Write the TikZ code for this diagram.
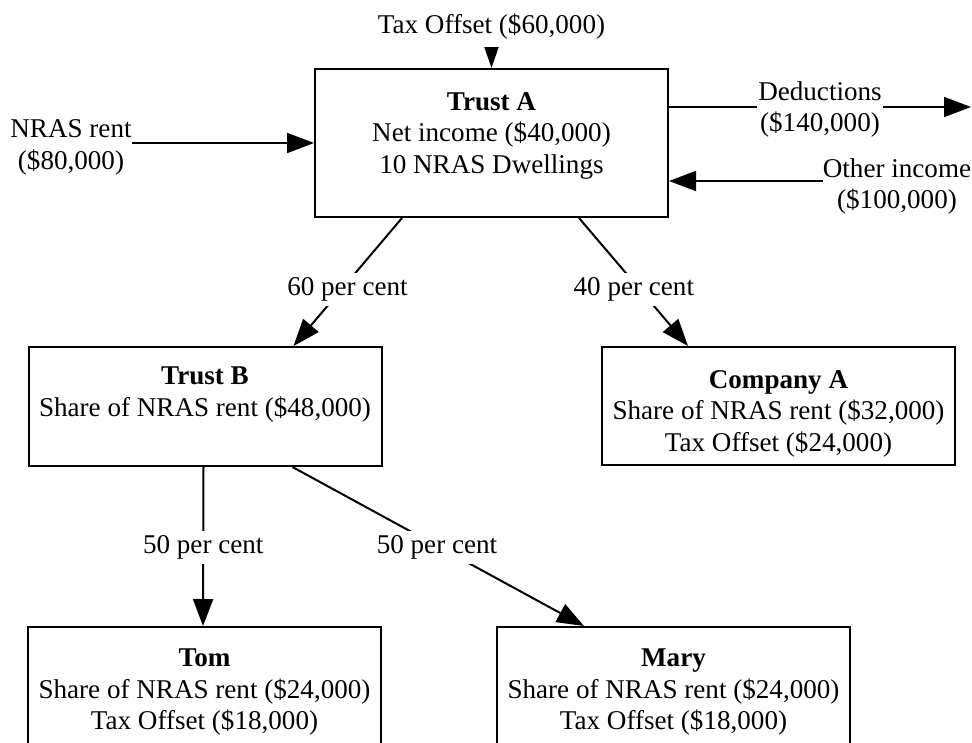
\documentclass[tikz,border=0pt]{standalone}
\usepackage{fontspec}
\setmainfont{Liberation Serif}
\usetikzlibrary{arrows.meta}
\begin{document}
\begin{tikzpicture}[x=1pt,y=-1pt,
  every node/.style={font=\fontsize{27.1}{31.5}\selectfont, inner sep=0pt},
  box/.style={draw, line width=2pt, minimum width=353pt, inner sep=0pt},
  txt/.style={align=center, anchor=north},
  lbl/.style={fill=white, text height=20pt, text depth=7pt, inner xsep=2pt, inner ysep=3pt},
  ln/.style={line width=2pt},
  arr/.style={line width=2pt, -{Triangle[length=27pt,width=20pt]}},
  smallarr/.style={line width=2pt, -{Triangle[length=21pt,width=14pt]}}
]
\useasboundingbox (0,0) rectangle (972,742);
\clip (0,0) rectangle (972,742);

% boxes
\node[box, minimum height=148pt] (trustA) at (491.5,143) {};
\node[box, minimum height=119pt] (trustB) at (205,406.5) {};
\node[box, minimum height=118pt] (compA) at (778.5,406) {};
\node[box, minimum height=119pt] (tom) at (204.5,686.5) {};
\node[box, minimum height=119pt] (mary) at (673.5,686.5) {};

% box texts
\node[txt] (trustAtxt) at (491.5,92) {\textbf{Trust A}\\Net income (\$40,000)\\10 NRAS Dwellings};
\node[txt] (trustBtxt) at (205,367) {\textbf{Trust B}\\Share of NRAS rent (\$48,000)};
\node[txt] (compAtxt) at (778.5,370) {\textbf{Company A}\\Share of NRAS rent (\$32,000)\\Tax Offset (\$24,000)};
\node[txt] (tomtxt) at (204.5,649) {\textbf{Tom}\\Share of NRAS rent (\$24,000)\\Tax Offset (\$18,000)};
\node[txt] (marytxt) at (673.5,649) {\textbf{Mary}\\Share of NRAS rent (\$24,000)\\Tax Offset (\$18,000)};

% outside flows
\node[anchor=base] (tax) at (491.5,33.5) {Tax Offset (\$60,000)};
\draw[smallarr] ([yshift=-14.5pt]tax.base) -- (trustA.north);

\node[align=center] (nras) at (71,147.5) {NRAS rent\\(\$80,000)};
\draw[arr] (nras.east |- trustA.west) -- (trustA.west);

\node[align=center] (other) at (897,186.5) {Other income\\(\$100,000)};
\coordinate (othertail) at ([yshift=5.5pt]other.west);
\draw[arr] (othertail) -- (othertail -| trustA.east);

\coordinate (dedend) at (971,107);
\draw[arr] (dedend -| trustA.east) -- (dedend);
\node[align=center, fill=white, inner xsep=1pt] (ded) at (820,109.5) {Deductions\\(\$140,000)};

% distribution edges
\draw[arr] ([xshift=88pt]trustA.south west) -- node[lbl, pos=0.558, xshift=6pt] (l60) {60 per cent} ([xshift=266pt]trustB.north west);
\draw[arr] ([xshift=265pt]trustA.south west) -- node[lbl, pos=0.558, xshift=-6pt] (l40) {40 per cent} ([xshift=87pt]compA.north west);
\draw[arr] ([xshift=176pt]trustB.south west) -- node[lbl, pos=0.506] (l50a) {50 per cent} ([xshift=176pt]tom.north west);
\draw[arr] ([xshift=265pt]trustB.south west) -- node[lbl, pos=0.506, xshift=-3pt] (l50b) {50 per cent} ([xshift=88pt]mary.north west);
\end{tikzpicture}
\end{document}
